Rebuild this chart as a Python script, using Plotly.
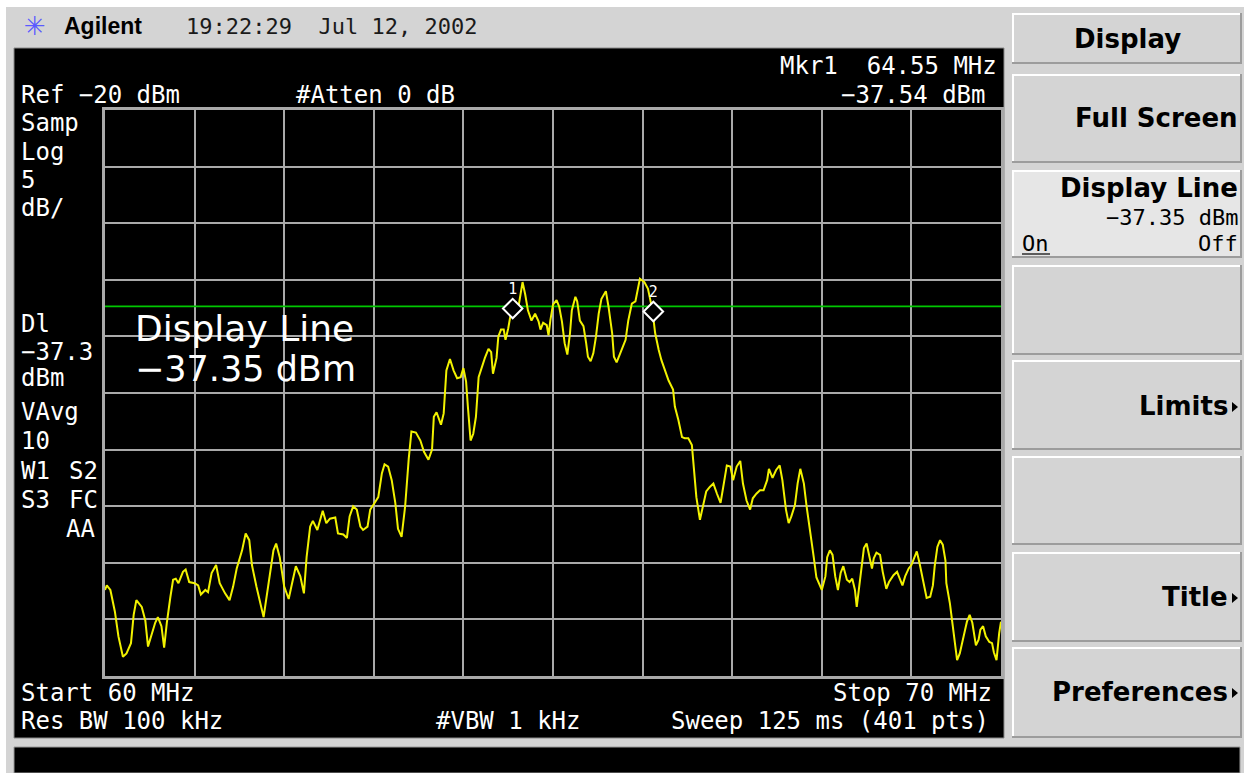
import plotly.graph_objects as go

START_MHZ, STOP_MHZ = 60, 70
REF_DBM, DB_PER_DIV, N_DIV = -20, 5, 10
display_line_dbm = -37.35

freq_mhz = [
    60.00, 60.02, 60.06, 60.11, 60.15, 60.20, 60.24, 60.29, 60.32, 60.35,
    60.41, 60.45, 60.48, 60.52, 60.56, 60.59, 60.63, 60.66, 60.69, 60.73,
    60.76, 60.79, 60.82, 60.87, 60.90, 60.94, 61.00, 61.04, 61.07, 61.12,
    61.15, 61.19, 61.24, 61.28, 61.34, 61.39, 61.43, 61.47, 61.53, 61.57,
    61.61, 61.64, 61.69, 61.77, 61.80, 61.84, 61.88, 61.91, 61.95, 62.00,
    62.05, 62.08, 62.13, 62.18, 62.22, 62.25, 62.29, 62.32, 62.37, 62.43,
    62.47, 62.51, 62.57, 62.60, 62.66, 62.70, 62.73, 62.77, 62.81, 62.85,
    62.88, 62.93, 62.96, 63.01, 63.05, 63.09, 63.12, 63.16, 63.20, 63.24,
    63.27, 63.31, 63.35, 63.39, 63.42, 63.47, 63.52, 63.56, 63.61, 63.65,
    63.67, 63.70, 63.75, 63.78, 63.81, 63.85, 63.89, 63.93, 63.97, 64.00,
    64.03, 64.05, 64.08, 64.11, 64.14, 64.17, 64.20, 64.24, 64.28, 64.31,
    64.33, 64.37, 64.39, 64.42, 64.45, 64.47, 64.50, 64.52, 64.55, 64.58,
    64.61, 64.63, 64.66, 64.69, 64.72, 64.76, 64.80, 64.84, 64.86, 64.89,
    64.93, 64.95, 64.97, 65.00, 65.04, 65.07, 65.10, 65.13, 65.16, 65.19,
    65.21, 65.25, 65.27, 65.30, 65.34, 65.37, 65.39, 65.42, 65.45, 65.48,
    65.51, 65.54, 65.59, 65.62, 65.66, 65.68, 65.71, 65.75, 65.78, 65.81,
    65.84, 65.88, 65.92, 65.94, 65.97, 66.02, 66.06, 66.11, 66.14, 66.18,
    66.21, 66.25, 66.29, 66.34, 66.36, 66.40, 66.44, 66.47, 66.51, 66.55,
    66.57, 66.60, 66.64, 66.67, 66.71, 66.75, 66.79, 66.83, 66.87, 66.90,
    66.94, 66.98, 67.01, 67.05, 67.09, 67.12, 67.16, 67.20, 67.23, 67.27,
    67.31, 67.35, 67.39, 67.41, 67.45, 67.49, 67.53, 67.56, 67.60, 67.63,
    67.66, 67.70, 67.73, 67.76, 67.80, 67.83, 67.87, 67.91, 67.94, 68.00,
    68.04, 68.06, 68.09, 68.12, 68.15, 68.18, 68.21, 68.24, 68.28, 68.31,
    68.34, 68.37, 68.39, 68.42, 68.45, 68.47, 68.50, 68.53, 68.56, 68.58,
    68.61, 68.65, 68.68, 68.72, 68.75, 68.80, 68.84, 68.86, 68.90, 68.93,
    68.97, 69.00, 69.04, 69.06, 69.09, 69.11, 69.14, 69.17, 69.21, 69.24,
    69.26, 69.29, 69.32, 69.35, 69.38, 69.39, 69.43, 69.46, 69.49, 69.51,
    69.54, 69.57, 69.60, 69.62, 69.65, 69.68, 69.70, 69.72, 69.75, 69.77,
    69.80, 69.83, 69.87, 69.90, 69.92, 69.95, 69.98, 70.00,
]

level_dbm = [
    -62.4, -62.0, -62.4, -64.3, -66.5, -68.3, -68.0, -67.1, -64.6, -63.3,
    -63.9, -65.1, -67.4, -66.4, -65.3, -64.8, -65.6, -67.5, -65.3, -63.0,
    -61.5, -61.4, -61.8, -60.8, -60.6, -61.7, -61.8, -62.0, -62.8, -62.4,
    -62.6, -60.9, -60.2, -61.8, -62.7, -63.3, -62.1, -60.5, -58.9, -57.4,
    -58.0, -60.2, -62.1, -64.8, -63.3, -60.9, -58.9, -58.3, -59.5, -62.1,
    -63.2, -62.1, -60.3, -61.2, -62.7, -59.5, -56.8, -56.3, -57.1, -55.4,
    -56.5, -56.1, -56.0, -57.4, -57.5, -57.8, -55.9, -55.0, -55.3, -56.8,
    -57.1, -56.8, -55.3, -54.7, -54.2, -52.1, -51.3, -51.5, -52.7, -54.7,
    -57.0, -57.7, -55.0, -50.8, -48.4, -48.5, -49.2, -50.2, -50.9, -50.0,
    -47.1, -46.7, -47.8, -46.8, -43.0, -42.0, -43.0, -43.7, -43.6, -42.8,
    -44.0, -46.2, -49.2, -48.6, -47.1, -43.6, -42.8, -41.9, -41.1, -41.4,
    -43.3, -41.9, -40.0, -39.4, -39.4, -40.3, -39.3, -38.4, -37.5, -36.9,
    -37.6, -36.5, -35.2, -36.3, -37.7, -38.6, -38.0, -38.7, -39.4, -38.8,
    -39.0, -39.9, -38.6, -37.2, -36.8, -37.4, -38.7, -40.6, -41.6, -39.7,
    -37.7, -36.5, -36.9, -38.6, -39.1, -40.6, -41.8, -42.2, -41.5, -40.0,
    -38.0, -36.7, -36.0, -37.4, -39.7, -41.8, -42.3, -41.5, -40.8, -40.3,
    -38.6, -37.1, -36.9, -36.2, -34.9, -35.2, -35.8, -37.7, -39.7, -41.2,
    -42.1, -43.0, -43.9, -44.7, -46.2, -47.4, -48.9, -49.0, -49.0, -49.6,
    -51.2, -54.2, -56.2, -55.0, -53.7, -53.3, -53.0, -53.9, -54.7, -53.3,
    -51.4, -51.5, -52.7, -51.5, -51.0, -53.0, -54.5, -55.3, -54.3, -53.9,
    -53.6, -53.6, -52.7, -51.7, -52.5, -51.8, -51.4, -52.7, -55.3, -56.5,
    -55.9, -54.9, -53.0, -51.7, -53.0, -55.0, -57.1, -59.5, -61.3, -62.4,
    -61.2, -59.5, -58.9, -59.3, -61.2, -62.4, -60.9, -60.3, -61.5, -61.7,
    -61.4, -62.4, -63.9, -62.1, -59.8, -58.7, -58.3, -59.5, -60.5, -59.6,
    -59.1, -59.3, -60.8, -62.3, -61.7, -61.1, -60.8, -61.2, -62.0, -61.2,
    -60.5, -60.2, -59.3, -59.0, -60.0, -60.8, -62.0, -63.1, -63.0, -62.0,
    -60.3, -58.6, -58.0, -58.4, -59.8, -61.8, -63.6, -65.6, -67.4, -68.6,
    -68.0, -66.8, -65.9, -65.2, -64.6, -65.3, -66.5, -67.3, -66.8, -65.9,
    -65.6, -66.5, -67.0, -67.1, -67.9, -68.6, -66.2, -65.2,
]

marker_freq = [64.55, 66.12]
marker_level = [-37.54, -37.8]
marker_label = ["1", "2"]

# ---------------- page geometry (pixels) ----------------
W, H = 1244, 773
L, R, T, B = 105, 1001, 110, 676


def px(x):
    return (x - L) / (R - L)


def py(y):
    return (B - y) / (B - T)


MONO = "DejaVu Sans Mono"
SANS = "DejaVu Sans"

fig = go.Figure()

fig.add_trace(go.Scatter(
    x=[START_MHZ, STOP_MHZ], y=[display_line_dbm, display_line_dbm],
    mode="lines", line=dict(color="#00c800", width=1.6),
    hoverinfo="skip", showlegend=False))

fig.add_trace(go.Scatter(
    x=freq_mhz, y=level_dbm, mode="lines",
    line=dict(color="#f2f200", width=2),
    hoverinfo="skip", showlegend=False))

fig.add_trace(go.Scatter(
    x=marker_freq, y=marker_level, mode="markers+text",
    text=marker_label, textposition="top center",
    textfont=dict(color="white", size=15, family=MONO),
    marker=dict(symbol="diamond", size=15, color="black",
                line=dict(color="white", width=2)),
    cliponaxis=False, hoverinfo="skip", showlegend=False))

# ---------------- background panels ----------------
shapes = []


def rect(x0, y0, x1, y1, fill, line_color=None, lw=0):
    shapes.append(dict(type="rect", xref="paper", yref="paper",
                       x0=px(x0), x1=px(x1), y0=py(y1), y1=py(y0),
                       fillcolor=fill, layer="below",
                       line=dict(width=lw, color=line_color or fill)))


def hline(x0, x1, y, color, lw):
    shapes.append(dict(type="line", xref="paper", yref="paper",
                       x0=px(x0), x1=px(x1), y0=py(y), y1=py(y),
                       layer="below", line=dict(color=color, width=lw)))


def vline(x, y0, y1, color, lw):
    shapes.append(dict(type="line", xref="paper", yref="paper",
                       x0=px(x), x1=px(x), y0=py(y0), y1=py(y1),
                       layer="below", line=dict(color=color, width=lw)))


def arrow(xc, yc):
    path = "M {} {} L {} {} L {} {} Z".format(
        px(xc - 3), py(yc - 5), px(xc + 3), py(yc), px(xc - 3), py(yc + 5))
    shapes.append(dict(type="path", xref="paper", yref="paper", path=path,
                       fillcolor="black", line=dict(width=0, color="black"),
                       layer="above"))


rect(0, 0, W, 7, "white")
rect(0, 0, 6, H, "white")
rect(14, 48, 1004, 738, "black", "#8a8a8a", 1)
rect(14, 747, 1240, H, "black", "#9a9a9a", 1)

buttons = [(13, 64, "#d4d4d4"), (74, 163, "#d4d4d4"), (170, 258, "#e6e6e6"),
           (265, 355, "#d4d4d4"), (360, 450, "#d4d4d4"), (456, 545, "#d4d4d4"),
           (552, 642, "#d4d4d4"), (647, 738, "#d4d4d4")]
for y0, y1, face in buttons:
    rect(1012, y0, 1242, y1, face)
    hline(1012, 1242, y0 + 1, "white", 2)
    vline(1013, y0, y1, "white", 2)
    hline(1012, 1242, y1 - 1, "#9c9c9c", 2)
    vline(1241, y0, y1, "#9c9c9c", 2)

hline(1022, 1050, 254, "black", 1.2)  # underline under "On"
arrow(1235, 407)
arrow(1235, 598)
arrow(1235, 693)

# ---------------- texts ----------------
ann = []


def text(s, x, y, anchor="left", size=24, color="white", family=MONO):
    ann.append(dict(text=s, xref="paper", yref="paper", x=px(x), y=py(y),
                    xanchor=anchor, yanchor="middle", showarrow=False,
                    font=dict(size=size, color=color, family=family)))


# title bar
text("✳", 22, 26, size=26, color="#5a5aff", family=SANS)
text("<b>Agilent</b>", 62, 26, size=23, color="black", family="Liberation Sans")
text("19:22:29  Jul 12, 2002", 184, 26, size=22, color="#1a1a1a")

# screen annotations
text("Ref −20 dBm", 19, 95)
text("#Atten 0 dB", 294, 95)
text("Mkr1  64.55 MHz", 999, 66, "right")
text("−37.54 dBm", 988, 95, "right")

for s, y in [("Samp", 123), ("Log", 152), ("5", 180), ("dB/", 208),
             ("Dl", 324), ("−37.3", 352), ("dBm", 378), ("VAvg", 412),
             ("10", 441), ("W1", 471), ("S3", 500)]:
    text(s, 19, y)
text("S2", 67, 471)
text("FC", 67, 500)
text("AA", 64, 529)

text("Display Line", 133, 328, size=36, family=SANS)
text("−37.35 dBm", 133, 369, size=35, family=SANS)

text("Start 60 MHz", 19, 693)
text("Stop 70 MHz", 994, 693, "right")
text("Res BW 100 kHz", 19, 721)
text("#VBW 1 kHz", 434, 721)
text("Sweep 125 ms (401 pts)", 991, 721, "right")

# softkeys
text("<b>Display</b>", 1127, 39, "center", 26, "black", SANS)
text("<b>Full Screen</b>", 1240, 118, "right", 26, "black", SANS)
text("<b>Display Line</b>", 1240, 188, "right", 26, "black", SANS)
text("−37.35 dBm", 1240, 217, "right", 22, "black")
text("On", 1020, 243, "left", 22, "black")
text("Off", 1240, 243, "right", 22, "black")
text("<b>Limits</b>", 1230, 406, "right", 26, "black", SANS)
text("<b>Title</b>", 1230, 597, "right", 26, "black", SANS)
text("<b>Preferences</b>", 1230, 692, "right", 26, "black", SANS)

# ---------------- axes / layout ----------------
axis_common = dict(showgrid=True, gridcolor="#a9a9a9", gridwidth=2,
                   showticklabels=False, ticks="", zeroline=False,
                   showline=True, linecolor="#a9a9a9", linewidth=3,
                   mirror=True, fixedrange=True)

fig.update_layout(
    width=W, height=H, autosize=False,
    margin=dict(l=L, r=W - R, t=T, b=H - B, pad=0),
    paper_bgcolor="#d4d4d4", plot_bgcolor="rgba(0,0,0,0)",
    xaxis=dict(range=[START_MHZ, STOP_MHZ],
               dtick=(STOP_MHZ - START_MHZ) / N_DIV, tick0=START_MHZ,
               **axis_common),
    yaxis=dict(range=[REF_DBM - DB_PER_DIV * N_DIV, REF_DBM],
               dtick=DB_PER_DIV, tick0=REF_DBM, **axis_common),
    shapes=shapes, annotations=ann, showlegend=False,
)

fig.write_html("out.html", config={"displayModeBar": False, "staticPlot": True})
